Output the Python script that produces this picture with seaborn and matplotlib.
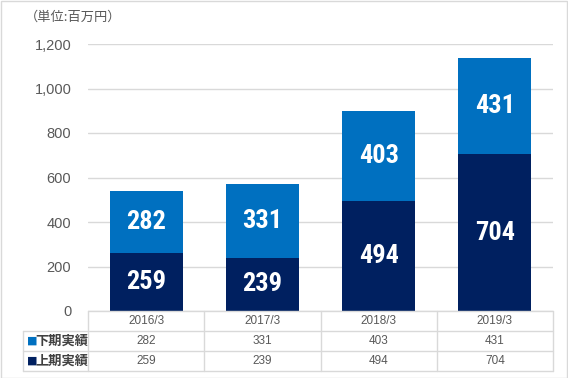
import matplotlib
matplotlib.use("Agg")
import matplotlib.pyplot as plt
import seaborn as sns
import pandas as pd
from matplotlib.patches import Rectangle
from matplotlib.lines import Line2D
from matplotlib import font_manager

categories = ["2016/3", "2017/3", "2018/3", "2019/3"]
lower_half = [259, 239, 494, 704]   # 上期実績
upper_half = [282, 331, 403, 431]   # 下期実績
series_names = ["下期実績", "上期実績"]
yticks = [0, 200, 400, 600, 800, 1000, 1200]
unit_label = "（単位:百万円）"

C_UP = "#0070C0"
C_LO = "#002060"
GRID = "#D9D9D9"
TXT = "#595959"

sns.set_theme(style="white")
plt.rcParams["font.family"] = ["DejaVu Sans", "Noto Sans CJK JP"]

names = {f.name for f in font_manager.fontManager.ttflist}
narrow = None
for cand in ["Liberation Sans Narrow", "DejaVu Sans Condensed", "Roboto Condensed"]:
    if cand in names:
        narrow = cand
        break

df = pd.DataFrame({"cat": categories, "lower": lower_half, "upper": upper_half})
df["total"] = df["lower"] + df["upper"]

W, H = 568, 378
fig = plt.figure(figsize=(W / 100, H / 100), dpi=100)
ax = fig.add_axes([88 / W, 1 - 311 / H, (553 - 88) / W, (311 - 44) / H])

sns.barplot(data=df, x="cat", y="total", color=C_UP, saturation=1, width=0.63,
            linewidth=0, edgecolor="none", ax=ax)
sns.barplot(data=df, x="cat", y="lower", color=C_LO, saturation=1, width=0.63,
            linewidth=0, edgecolor="none", ax=ax)

ax.set_ylim(0, 1200)
ax.set_xlim(-0.5, len(categories) - 0.5)
ax.set_yticks(yticks)
ax.set_yticklabels([f"{v:,}" for v in yticks], color=TXT, fontsize=10.5,
                   family=["Liberation Sans", "DejaVu Sans"])
ax.tick_params(axis="y", length=0, pad=12)
ax.set_xticks([])
ax.set_xlabel("")
ax.set_ylabel("")
for s in ax.spines.values():
    s.set_visible(False)
ax.yaxis.grid(True, color=GRID, linewidth=1)
ax.set_axisbelow(True)

if narrow:
    lab_font = dict(color="white", fontsize=19, fontweight="bold",
                    family=[narrow, "DejaVu Sans"], ha="center", va="center")
else:
    lab_font = dict(color="white", fontsize=19, fontweight="bold", fontstretch="condensed",
                    family=["DejaVu Sans"], ha="center", va="center")
for i, (lo, up) in enumerate(zip(lower_half, upper_half)):
    ax.text(i, lo / 2, f"{lo}", **lab_font)
    ax.text(i, lo + up / 2, f"{up}", **lab_font)

# data table below the axis
tr = ax.get_xaxis_transform()
row_h = 20 / (311 - 44)
rows_y = [0, -row_h, -2 * row_h, -3 * row_h]
label_left = -0.5 - (88 - 23) / ((553 - 88) / 4)
kw_line = dict(color=GRID, linewidth=1, transform=tr, clip_on=False)
ax.add_line(Line2D([-0.5, 3.5], [rows_y[0], rows_y[0]], **kw_line))
for y in rows_y[1:]:
    ax.add_line(Line2D([label_left, 3.5], [y, y], **kw_line))
for xb in [-0.5, 0.5, 1.5, 2.5, 3.5]:
    ax.add_line(Line2D([xb, xb], [rows_y[0], rows_y[3]], **kw_line))
ax.add_line(Line2D([label_left, label_left], [rows_y[1], rows_y[3]], **kw_line))

tfont = dict(color=TXT, fontsize=8.5, ha="center", va="center", transform=tr,
             family=["Liberation Sans", "DejaVu Sans"], clip_on=False)
for i, c in enumerate(categories):
    ax.text(i, -row_h * 0.5, c, **tfont)
    ax.text(i, -row_h * 1.5, f"{upper_half[i]}", **tfont)
    ax.text(i, -row_h * 2.5, f"{lower_half[i]}", **tfont)

for j, (name, col) in enumerate(zip(series_names, [C_UP, C_LO])):
    yc = -row_h * (1.5 + j)
    ax.text(label_left + 0.03, yc, "■", color=col, fontsize=8, ha="left", va="center",
            transform=tr, family=["DejaVu Sans"], clip_on=False)
    ax.text(label_left + 0.11, yc, name, color="#404040", fontsize=9.5, fontweight="bold",
            ha="left", va="center", transform=tr, family=["Noto Sans CJK JP"], clip_on=False)

fig.text(25 / W, 1 - 17 / H, unit_label, color=TXT, fontsize=9.5, ha="left", va="center",
         family=["Noto Sans CJK JP", "DejaVu Sans"])

fig.patches.append(Rectangle((0.5 / W, 0.5 / H), 1 - 1.5 / W, 1 - 1.5 / H,
                             transform=fig.transFigure, fill=False, edgecolor=GRID, linewidth=1))

fig.savefig("out.png", dpi=100)
